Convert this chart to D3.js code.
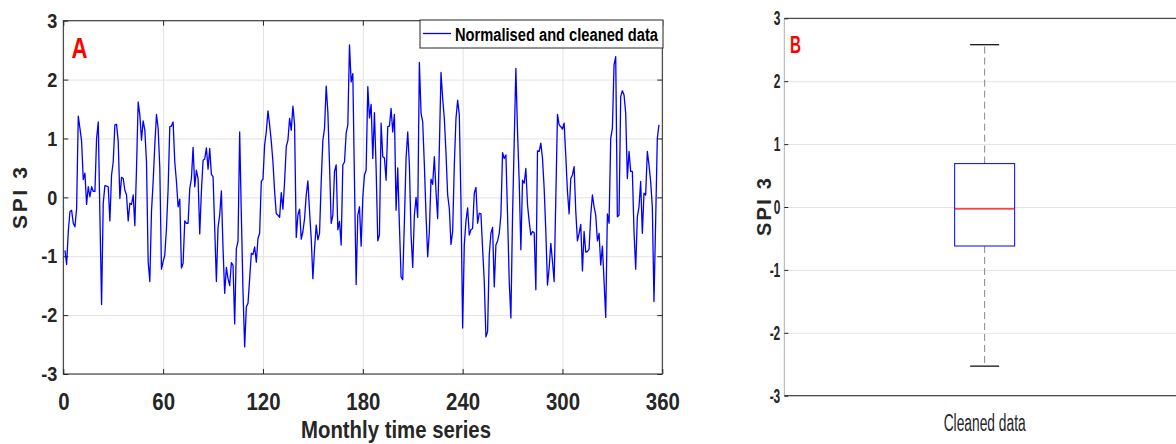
<!DOCTYPE html>
<html>
<head>
<meta charset="utf-8">
<script src="https://cdn.jsdelivr.net/npm/d3@7"></script>
<style>
  body { margin: 0; background: #fff; }
  text { font-family: 'Liberation Sans', Arial, sans-serif; }
</style>
</head>
<body>
<svg id="fig" width="1176" height="444"></svg>
<script>
'use strict'

// SPI 3, monthly values (months 1..358)
const spi3 = [
  -0.9, -1.14, -0.58, -0.24, -0.22, -0.44, -0.5, -0.19, 1.38, 1.17,
  0.95, 0.3, 0.41, -0.12, 0.18, 0.01, 0.18, 0.1, 0.1, 1.0,
  1.28, -0.3, -1.82, -0.1, 0.2, 0.19, 0.18, -0.4, 0.38, 0.6,
  1.23, 1.24, 0.95, -0.02, 0.34, 0.32, 0.12, 0.04, -0.4, -0.1,
  -0.12, 0.04, -0.48, 0.49, 1.62, 1.4, 0.97, 1.3, 1.14, 0.6,
  -1.09, -1.43, -0.24, 0.27, 0.89, 1.41, 1.17, 0.5, -1.22, -1.09,
  -0.98, -0.53, 0.15, 1.2, 1.21, 1.28, 0.6, 0.27, -0.16, -0.03,
  -1.2, -1.12, -0.4, -0.44, -0.44, 0.15, 0.32, 0.85, 0.18, 0.46,
  0.32, -0.62, 0.1, 0.63, 0.65, 0.84, 0.48, 0.83, 0.39, 0.35,
  -0.53, -1.43, -0.51, -0.3, 0.11, -0.87, -1.63, -1.19, -1.38, -1.5,
  -1.11, -1.15, -2.15, -0.87, -0.75, 1.11, -0.3, -1.6, -2.54, -1.86,
  -1.8, -1.38, -0.95, -0.97, -0.84, -1.1, -0.7, -0.61, 0.27, 0.31,
  0.89, 1.11, 1.47, 1.23, 0.95, 0.6, 0.1, -0.28, -0.3, -0.34,
  0.08, -0.2, 0.27, 0.86, 0.97, 1.34, 1.14, 1.55, 1.23, -0.68,
  -0.3, -0.2, -0.71, -0.58, -0.36, 0.04, 0.28, -0.24, -0.7, -1.38,
  -0.87, -0.47, -0.72, -0.61, 0.27, 0.97, 1.17, 1.89, 1.45, 0.55,
  -0.44, -0.3, 0.44, 0.55, -0.55, -0.41, -0.81, 0.55, 0.6, 1.09,
  1.23, 2.59, 1.96, 2.1, 0.27, -1.48, -0.3, -0.16, -0.83, 0.0,
  0.38, 0.46, 1.88, 1.35, 1.58, 0.66, 1.44, 0.5, -0.74, -0.64,
  1.26, 0.69, 0.67, 0.29, 1.2, 1.21, 1.51, 1.11, 1.41, -0.22,
  0.5, -0.47, -1.35, -1.4, -0.41, 0.66, 1.11, 0.55, -0.64, -1.19,
  -0.3, 0.0, -0.34, 2.29, 1.43, 1.28, 0.55, -0.3, -1.01, -0.58,
  0.31, 0.22, 0.69, 0.1, -0.36, 0.83, 2.12, 1.68, 1.34, 0.75,
  0.04, -0.19, -0.8, -0.58, 0.55, 1.34, 1.65, 1.4, -0.07, -2.22,
  -0.81, -0.4, -0.18, -0.64, -0.55, -0.53, 0.07, 0.17, -0.44, -0.27,
  -0.28, -0.87, -1.43, -2.37, -2.28, -0.98, -0.61, -0.51, -1.52, -0.81,
  -0.74, -0.61, -0.3, 0.76, 0.66, 0.72, -0.3, -1.43, -2.05, -0.3,
  0.95, 2.19, 1.11, 0.27, -0.89, 0.29, 0.24, 0.49, -0.13, -0.41,
  -0.64, -0.58, -0.6, -1.57, 0.79, 0.78, 0.92, 0.66, 0.15, -0.58,
  -1.49, -1.2, -0.78, -1.09, -1.43, -0.02, 1.41, 1.23, 1.2, 1.16,
  1.26, 0.7, 0.1, -0.28, 0.32, 0.38, 0.52, -0.24, -0.74, -0.61,
  -0.46, -1.25, -0.58, -0.93, -0.92, -0.88, -0.3, 0.04, -0.16, -0.3,
  -0.74, -0.61, -1.15, -0.83, -1.43, -2.04, -0.28, -0.44, 1.0, 1.17,
  2.25, 2.39, -0.33, -0.3, 1.71, 1.81, 1.74, 1.43, 0.32, 0.78,
  0.44, 0.44, -0.58, -1.22, -0.33, -0.16, 0.27, -0.61, 0.07, 0.04,
  0.78, 0.55, 0.27, -0.16, -1.77, -0.41, 1.0, 1.23
]
const months = d3.range(1, spi3.length + 1)

const xTicks = [0, 60, 120, 180, 240, 300, 360]
const yTicks = [-3, -2, -1, 0, 1, 2, 3]

// panel B box plot: [lower whisker, Q1, median, Q3, upper whisker]
const boxCategories = ['Cleaned data']
const boxStats = [-2.53, -0.62, -0.03, 0.69, 2.58]

const svg = d3.select('#fig')
svg.append('rect').attr('width', 1176).attr('height', 444).attr('fill', '#fff')

const dark = '#262626'
const gridCol = '#e3e3e3'
const plain = d => String(d)

// squeeze text horizontally, the figure uses a condensed face
const squeeze = (sel, k) => sel.each(function() {
  const w = this.getComputedTextLength()
  d3.select(this).attr('textLength', w * k).attr('lengthAdjust', 'spacingAndGlyphs')
})

// ---------- panel A ----------
const aLeft = 63.3, aRight = 662.3, aTop = 20.7, aBottom = 374
const x = d3.scaleLinear().domain([0, 360]).range([aLeft, aRight])
const y = d3.scaleLinear().domain([-3, 3]).range([aBottom, aTop])

const gA = svg.append('g')

gA.append('g')
  .attr('transform', `translate(0,${aBottom})`)
  .call(d3.axisBottom(x).tickValues(xTicks).tickSize(-(aBottom - aTop)).tickFormat(''))
  .call(g => g.select('.domain').remove())
  .selectAll('line').attr('stroke', gridCol)

gA.append('g')
  .attr('transform', `translate(${aLeft},0)`)
  .call(d3.axisLeft(y).tickValues(yTicks).tickSize(-(aRight - aLeft)).tickFormat(''))
  .call(g => g.select('.domain').remove())
  .selectAll('line').attr('stroke', gridCol)

const line = d3.line()
  .x((d, i) => x(months[i]))
  .y(d => y(d))

gA.append('path')
  .datum(spi3)
  .attr('d', line)
  .attr('fill', 'none')
  .attr('stroke', '#0000ff')
  .attr('stroke-width', 1.3)
  .attr('stroke-linejoin', 'round')

gA.append('rect')
  .attr('x', aLeft).attr('y', aTop)
  .attr('width', aRight - aLeft).attr('height', aBottom - aTop)
  .attr('fill', 'none').attr('stroke', dark)

const styleAxis = (g, size, k) => {
  g.select('.domain').remove()
  g.selectAll('line').attr('stroke', dark)
  g.selectAll('text')
    .attr('fill', dark)
    .style('font-size', size + 'px')
    .style('font-weight', 'bold')
    .call(squeeze, k)
}

gA.append('g')
  .attr('transform', `translate(0,${aBottom})`)
  .call(d3.axisBottom(x).tickValues(xTicks).tickFormat(plain).tickSize(-5).tickPadding(19))
  .call(g => styleAxis(g, 24, 0.85))

gA.append('g')
  .attr('transform', `translate(0,${aTop})`)
  .call(d3.axisTop(x).tickValues(xTicks).tickSize(-5).tickFormat(''))
  .call(g => styleAxis(g, 10, 1))

gA.append('g')
  .attr('transform', `translate(${aLeft},0)`)
  .call(d3.axisLeft(y).tickValues(yTicks).tickFormat(plain).tickSize(-5).tickPadding(6))
  .call(g => styleAxis(g, 21, 0.86))

gA.append('g')
  .attr('transform', `translate(${aRight},0)`)
  .call(d3.axisRight(y).tickValues(yTicks).tickSize(-5).tickFormat(''))
  .call(g => styleAxis(g, 10, 1))

gA.append('text')
  .attr('x', 396).attr('y', 438)
  .attr('text-anchor', 'middle')
  .attr('textLength', 190).attr('lengthAdjust', 'spacingAndGlyphs')
  .style('font-size', '24px').style('font-weight', 'bold')
  .attr('fill', dark)
  .text('Monthly time series')

gA.append('text')
  .attr('transform', 'translate(27,198) rotate(-90)')
  .attr('text-anchor', 'middle')
  .attr('textLength', 62).attr('lengthAdjust', 'spacing')
  .style('font-size', '21px').style('font-weight', 'bold')
  .attr('fill', dark)
  .text('SPI 3')

gA.append('text')
  .attr('x', 71.5).attr('y', 58.3)
  .attr('textLength', 16).attr('lengthAdjust', 'spacingAndGlyphs')
  .style('font-size', '29px').style('font-weight', 'bold')
  .attr('fill', '#ff0000')
  .text('A')

// legend
const lg = gA.append('g')
lg.append('rect')
  .attr('x', 420).attr('y', 20).attr('width', 243).attr('height', 28)
  .attr('fill', '#fff').attr('stroke', dark)
lg.append('line')
  .attr('x1', 423).attr('x2', 451).attr('y1', 33.5).attr('y2', 33.5)
  .attr('stroke', '#0000ff').attr('stroke-width', 1.3)
lg.append('text')
  .attr('x', 455).attr('y', 41)
  .attr('textLength', 203).attr('lengthAdjust', 'spacingAndGlyphs')
  .style('font-size', '18px').style('font-weight', 'bold')
  .attr('fill', '#000')
  .text('Normalised and cleaned data')

// ---------- panel B ----------
const bLeft = 784.3, bRight = 1185, bTop = 18.3, bBottom = 395.7
const xb = d3.scalePoint().domain(boxCategories).range([bLeft, bRight]).padding(0.5)
const yb = d3.scaleLinear().domain([-3, 3]).range([bBottom, bTop])

const gB = svg.append('g')

gB.append('g')
  .attr('transform', `translate(${bLeft},0)`)
  .call(d3.axisLeft(yb).tickValues(yTicks).tickSize(-(bRight - bLeft)).tickFormat(''))
  .call(g => g.select('.domain').remove())
  .selectAll('line').attr('stroke', gridCol)

gB.append('line')
  .attr('x1', bLeft).attr('x2', bLeft).attr('y1', bTop).attr('y2', bBottom)
  .attr('stroke', '#b0b0b0')
gB.append('line')
  .attr('x1', bLeft).attr('x2', bRight).attr('y1', bTop).attr('y2', bTop)
  .attr('stroke', dark)
gB.append('line')
  .attr('x1', bLeft).attr('x2', bRight).attr('y1', bBottom).attr('y2', bBottom)
  .attr('stroke', dark)

gB.append('g')
  .attr('transform', `translate(${bLeft},0)`)
  .call(d3.axisLeft(yb).tickValues(yTicks).tickFormat(plain).tickSize(-4).tickPadding(4))
  .call(g => styleAxis(g, 20, 0.6))

const boxHalf = 30, capHalf = 14.5
boxCategories.forEach(c => {
  const cx = xb(c)
  const [lo, q1, med, q3, hi] = boxStats
  gB.append('line')
    .attr('x1', cx).attr('x2', cx).attr('y1', yb(q3)).attr('y2', yb(hi))
    .attr('stroke', '#888').attr('stroke-dasharray', '7,4')
  gB.append('line')
    .attr('x1', cx).attr('x2', cx).attr('y1', yb(q1)).attr('y2', yb(lo))
    .attr('stroke', '#888').attr('stroke-dasharray', '7,4')
  gB.selectAll(null).data([lo, hi]).enter().append('line')
    .attr('x1', cx - capHalf).attr('x2', cx + capHalf)
    .attr('y1', d => yb(d)).attr('y2', d => yb(d))
    .attr('stroke', '#000').attr('stroke-width', 1.2)
  gB.append('rect')
    .attr('x', cx - boxHalf).attr('y', yb(q3))
    .attr('width', boxHalf * 2).attr('height', yb(q1) - yb(q3))
    .attr('fill', 'none').attr('stroke', '#0000ff')
  gB.append('line')
    .attr('x1', cx - boxHalf).attr('x2', cx + boxHalf)
    .attr('y1', yb(med)).attr('y2', yb(med))
    .attr('stroke', '#ff0000').attr('stroke-width', 1.2)
  gB.append('text')
    .attr('x', cx).attr('y', 431)
    .attr('text-anchor', 'middle')
    .attr('textLength', 82).attr('lengthAdjust', 'spacingAndGlyphs')
    .style('font-size', '23px')
    .attr('fill', dark)
    .text(c)
})

gB.append('text')
  .attr('transform', 'translate(771,207) rotate(-90)')
  .attr('text-anchor', 'middle')
  .attr('textLength', 58).attr('lengthAdjust', 'spacing')
  .style('font-size', '20px').style('font-weight', 'bold')
  .attr('fill', dark)
  .text('SPI 3')

gB.append('text')
  .attr('x', 790).attr('y', 53)
  .attr('textLength', 11).attr('lengthAdjust', 'spacingAndGlyphs')
  .style('font-size', '23px').style('font-weight', 'bold')
  .attr('fill', '#ff0000')
  .text('B')
</script>
</body>
</html>
